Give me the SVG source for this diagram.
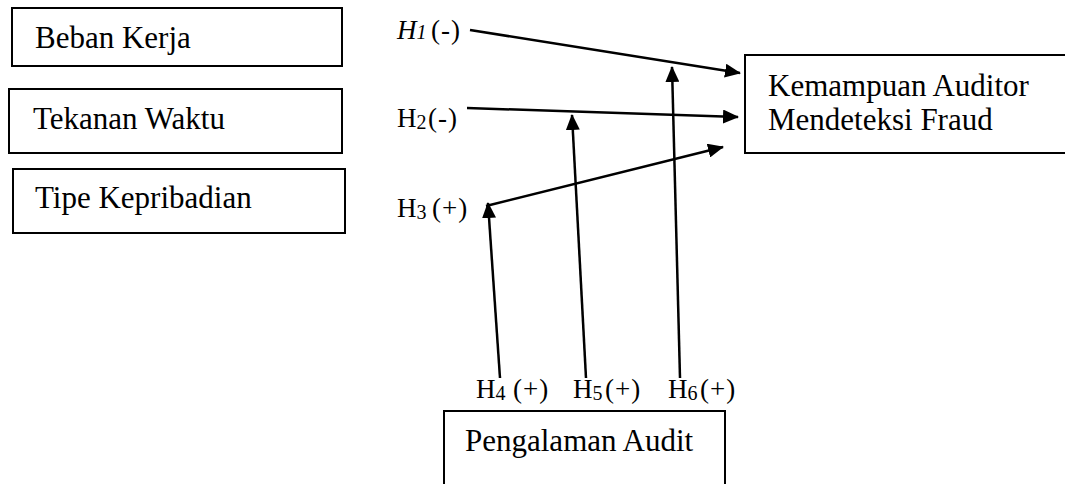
<svg xmlns="http://www.w3.org/2000/svg" width="1065" height="484" viewBox="0 0 1065 484">
  <defs>
    <marker id="arrow" markerUnits="userSpaceOnUse" markerWidth="16" markerHeight="14" refX="15" refY="7" orient="auto">
      <path d="M0,0 L16,7 L0,14 z" fill="#000"/>
    </marker>
    <style>
      .box { fill: #fff; stroke: #000; stroke-width: 2; }
      .lbl { font-family: "Liberation Serif", "Times New Roman", serif; font-size: 31px; fill: #000; }
      .hyp { font-family: "Liberation Serif", "Times New Roman", serif; font-size: 27px; fill: #000; }
      .sub { font-size: 20px; }
      .sign { letter-spacing: 1px; }
      .link { stroke: #000; stroke-width: 2.5; fill: none; marker-end: url(#arrow); }
    </style>
  </defs>

  <rect width="1065" height="484" fill="#fff"/>

  <!-- independent variables -->
  <g id="beban-kerja">
    <rect class="box" x="12" y="8" width="330" height="58"/>
    <text class="lbl" x="35" y="48">Beban Kerja</text>
  </g>
  <g id="tekanan-waktu">
    <rect class="box" x="9" y="89" width="333" height="64"/>
    <text class="lbl" x="33" y="129">Tekanan Waktu</text>
  </g>
  <g id="tipe-kepribadian">
    <rect class="box" x="13" y="169" width="332" height="64"/>
    <text class="lbl" x="35" y="208">Tipe  Kepribadian</text>
  </g>

  <!-- dependent variable -->
  <g id="kemampuan-auditor">
    <rect class="box" x="745" y="55" width="340" height="98"/>
    <text class="lbl" x="768" y="96">Kemampuan Auditor</text>
    <text class="lbl" x="768" y="130">Mendeteksi Fraud</text>
  </g>

  <!-- moderating variable -->
  <g id="pengalaman-audit">
    <rect class="box" x="444" y="411" width="281" height="90"/>
    <text class="lbl" x="465" y="451">Pengalaman Audit</text>
  </g>

  <!-- hypothesis labels -->
  <g id="hypotheses">
    <text class="hyp" x="397" y="39"><tspan font-style="italic">H</tspan><tspan class="sub" font-style="italic">1</tspan><tspan class="sign" x="431">(-)</tspan></text>
    <text class="hyp" x="397" y="127">H<tspan class="sub" dy="2">2</tspan><tspan class="sign" x="428" dy="-2">(-)</tspan></text>
    <text class="hyp" x="397" y="217">H<tspan class="sub" dy="2">3</tspan><tspan class="sign" x="432" dy="-2">(+)</tspan></text>
    <text class="hyp" x="476" y="398">H<tspan class="sub" dy="2">4</tspan><tspan class="sign" x="513" dy="-2">(+)</tspan></text>
    <text class="hyp" x="573" y="398">H<tspan class="sub" dy="2">5</tspan><tspan class="sign" x="605" dy="-2">(+)</tspan></text>
    <text class="hyp" x="668" y="398">H<tspan class="sub" dy="2">6</tspan><tspan class="sign" x="700" dy="-2">(+)</tspan></text>
  </g>

  <!-- connectors -->
  <g id="connectors">
    <line class="link" x1="470" y1="30" x2="740" y2="73"/>
    <line class="link" x1="467" y1="108" x2="738" y2="117"/>
    <line class="link" x1="486" y1="206" x2="723" y2="147"/>
    <line class="link" x1="500" y1="378" x2="488" y2="203"/>
    <line class="link" x1="586" y1="378" x2="572" y2="115"/>
    <line class="link" x1="680" y1="378" x2="672" y2="67"/>
  </g>
</svg>
